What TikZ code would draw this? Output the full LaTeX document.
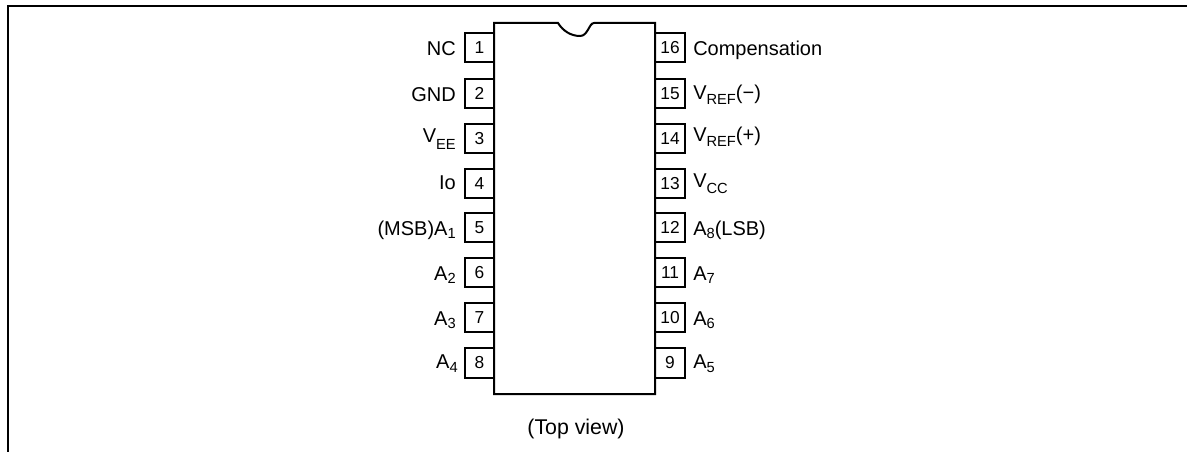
\documentclass[tikz,border=0pt]{standalone}
\usepackage{fontspec}
\setmainfont{Liberation Sans}
\newlength{\pxu}\setlength{\pxu}{0.75pt}
\tikzset{
  framel/.style={line width=1.5pt,black},
  chip/.style={line width=1.5pt,black,line join=miter},
  pinbox/.style={draw=black,line width=1.5pt,minimum width=29.5\pxu,minimum height=29.5\pxu,inner sep=0pt,font=\fontsize{13}{14}\selectfont},
  labl/.style={inner sep=0pt,anchor=base east,font=\fontsize{15}{16}\selectfont,text=black},
  labr/.style={inner sep=0pt,anchor=base west,font=\fontsize{15}{16}\selectfont,text=black}
}
\newcommand{\sbs}[2][-2.4pt]{\raisebox{#1}{\fontsize{11}{12}\selectfont #2}}
\begin{document}
\begin{tikzpicture}[x=0.75pt,y=-0.75pt]
\useasboundingbox (0,0) rectangle (1187,452);
\coordinate (fa) at (8,452); \coordinate (fb) at (8,6); \coordinate (fc) at (1187,6);
\draw[framel] (fa) -- (fb) -- (fc);
% chip body
\coordinate (tl) at (494,23); \coordinate (tr) at (655,23); \coordinate (br) at (655,394); \coordinate (bl) at (494,394);
\draw[chip] (tl) -- (558,23) .. controls (563,31) and (571,36) .. (580,36) .. controls (588,36) and (589,23) .. (594,23) -- (tr) -- (br) -- (bl) -- cycle;
% pins
\foreach \n/\y in {1/47.5,2/93.5,3/138.5,4/183.5,5/227.5,6/272.5,7/317.5,8/363}{
  \node[pinbox] (p\n) at (479.5,\y) {\n};
}
\foreach \n/\y in {16/47.5,15/93.5,14/138.5,13/183.5,12/227.5,11/272.5,10/317.5,9/363}{
  \node[pinbox] (p\n) at (670,\y) {\n};
}
\node[labl] (l1) at (456,56) {NC};
\node[labl] (l2) at (456,101.5) {GND};
\node[labl] (l3) at (456,143) {V\sbs[-5pt]{EE}};
\node[labl] (l4) at (456,190) {Io};
\node[labl] (l5) at (456,235) {(MSB)A\sbs{1}};
\node[labl] (l6) at (456,280) {A\sbs{2}};
\node[labl] (l7) at (456,325) {A\sbs{3}};
\node[labl] (l8) at (458,368) {A\sbs[-3.4pt]{4}};
\node[labr] (l16) at (693,56) {Compensation};
\node[labr] (l15) at (693,100) {V\sbs[-3.4pt]{REF}(−)};
\node[labr] (l14) at (693,142) {V\sbs[-3.4pt]{REF}(+)};
\node[labr] (l13) at (693,188) {V\sbs[-4pt]{CC}};
\node[labr] (l12) at (693,235) {A\sbs{8}(LSB)};
\node[labr] (l11) at (693,280) {A\sbs{7}};
\node[labr] (l10) at (693,325) {A\sbs{6}};
\node[labr] (l9) at (693,368) {A\sbs[-3.4pt]{5}};
\node[inner sep=0pt,font=\fontsize{16}{17}\selectfont] (tv) at (576,429) {(Top view)};
\end{tikzpicture}
\end{document}
